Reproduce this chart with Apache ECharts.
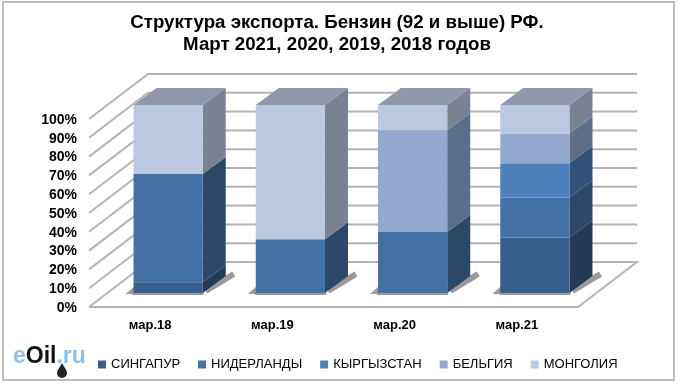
<!DOCTYPE html>
<html>
<head>
<meta charset="utf-8">
<style>
html, body { margin: 0; padding: 0; background: #fff; }
#chart { width: 680px; height: 385px; }
</style>
<script src="https://cdn.jsdelivr.net/npm/echarts@6/dist/echarts.min.js"></script>
</head>
<body>
<div id="chart"></div>
<script>
const categories = ['мар.18', 'мар.19', 'мар.20', 'мар.21'];
const tickLabels = [0, 10, 20, 30, 40, 50, 60, 70, 80, 90, 100];
const countries = ['СИНГАПУР', 'НИДЕРЛАНДЫ', 'КЫРГЫЗСТАН', 'БЕЛЬГИЯ', 'МОНГОЛИЯ'];
const singapore = [5.7, 0, 0, 29.5];
const netherlands = [57.6, 28.6, 32.5, 21.3];
const kyrgyzstan = [0, 0, 0, 18.2];
const belgium = [0, 0, 54.1, 15.8];
const mongolia = [36.7, 71.4, 13.4, 15.2];

const shares = [singapore, netherlands, kyrgyzstan, belgium, mongolia];
const frontColors = ['#375f8c', '#4471a5', '#4e80bc', '#94a9d0', '#bbc8e0'];
const sideColors = ['#233a58', '#2c4869', '#31537b', '#5d6e88', '#7a8292'];
const topColor = '#9097a9';
const gridColor = '#b4b4b4';
const shadowColor = '#9a9a9a';

// pseudo 3D offsets
const wallDx = 59, wallDy = 45;
const barDx = 18, barDy = 14;
const sideDx = 23, sideDy = 17;
const barShare = 0.566;

function poly(points, fill) {
	return {
		type: 'polygon',
		shape: { points: points },
		style: { fill: fill }
	};
}

// walls: one polyline per tick
function renderWall(params, api) {
	const tick = api.value(1);
	const left = api.coord([0, tick]);
	const right = api.coord([categories.length - 1, tick]);
	const band = api.size([1, 0])[0];
	const x0 = left[0] - band / 2;
	const x1 = right[0] + band / 2;
	const y = left[1];
	const points = tick === 0
		? [[x0, y], [x0 + wallDx, y - wallDy], [x1 + wallDx, y - wallDy], [x1, y], [x0, y]]
		: [[x0, y], [x0 + wallDx, y - wallDy], [x1 + wallDx, y - wallDy]];
	return {
		type: 'polyline',
		shape: { points: points },
		style: { stroke: gridColor, lineWidth: 2, fill: null }
	};
}

// floor shadow: left and bottom pieces, thick stroke on the right
function renderShadow(params, api) {
	const base = api.coord([api.value(0), api.value(1)]);
	const w = api.size([1, 0])[0] * barShare;
	const x0 = base[0] - w / 2 + barDx;
	const x1 = x0 + w;
	const yb = base[1] - barDy;
	return {
		type: 'group',
		children: [
			poly([[x0 - 8, yb + 1], [x0 + 1, yb + 1], [x0 + 1, yb - 6], [x0, yb - 6]], shadowColor),
			poly([[x0 - 1, yb + 2], [x1 + 1, yb + 2], [x1 + 1, yb - 1], [x0 - 1, yb - 1]], shadowColor),
			{
				type: 'line',
				shape: { x1: x1 + 3, y1: yb - 2, x2: x1 + 31, y2: yb - 19 },
				style: { stroke: shadowColor, lineWidth: 6 }
			}
		]
	};
}

function renderSegment(params, api) {
	const cat = api.value(0);
	const start = api.value(1);
	const end = api.value(2);
	const idx = api.value(3);
	if (end <= start) return null;
	const band = api.size([1, 0])[0];
	const w = band * barShare;
	const pb = api.coord([cat, start]);
	const pt = api.coord([cat, end]);
	const x0 = pb[0] - w / 2 + barDx;
	const x1 = x0 + w;
	const yb = pb[1] - barDy;
	const yt = pt[1] - barDy;
	const children = [
		poly([[x1, yb], [x1 + sideDx, yb - sideDy], [x1 + sideDx, yt - sideDy], [x1, yt]], sideColors[idx]),
		poly([[x0, yb], [x1, yb], [x1, yt], [x0, yt]], frontColors[idx])
	];
	if (end >= 99.9) {
		children.push(poly([[x0, yt], [x1, yt], [x1 + sideDx, yt - sideDy], [x0 + sideDx, yt - sideDy]], topColor));
	}
	return { type: 'group', children: children };
}

// one custom series per country, stacked by hand
const running = categories.map(function() { return 0; });
const segmentSeries = countries.map(function(name, i) {
	const rows = categories.map(function(c, k) {
		const start = running[k];
		running[k] += shares[i][k];
		return [k, start, running[k], i];
	});
	return {
		name: name,
		type: 'custom',
		renderItem: renderSegment,
		itemStyle: { color: frontColors[i] },
		encode: { x: 0, y: [1, 2] },
		data: rows,
		z: 5,
		silent: true
	};
});

// one shadow series per bar
const shadowSeries = categories.map(function(c, k) {
	return {
		type: 'custom',
		renderItem: renderShadow,
		encode: { x: 0, y: 1 },
		data: [[k, 0]],
		z: 3,
		silent: true
	};
});

const chart = echarts.init(document.getElementById('chart'));
chart.setOption({
	animation: false,
	backgroundColor: '#fff',
	textStyle: { fontFamily: '"Liberation Sans", Arial, sans-serif' },
	title: {
		text: 'Структура экспорта. Бензин (92 и выше) РФ.\nМарт 2021, 2020, 2019, 2018 годов',
		left: 332,
		top: 7,
		textAlign: 'center',
		textStyle: { fontSize: 18.7, fontWeight: 'bold', color: '#000', lineHeight: 22 }
	},
	legend: {
		data: countries,
		left: 93,
		top: 353,
		itemWidth: 8,
		itemHeight: 8,
		itemGap: 18,
		icon: 'rect',
		textStyle: { fontSize: 13, color: '#000' },
		selectedMode: false
	},
	grid: { left: 89, right: 102, top: 119, bottom: 78 },
	xAxis: {
		type: 'category',
		data: categories,
		axisLine: { show: false },
		axisTick: { show: false },
		axisLabel: { color: '#000', fontSize: 13, fontWeight: 'bold', margin: 12 }
	},
	yAxis: {
		type: 'value',
		min: 0,
		max: 100,
		interval: 10,
		axisLine: { show: false },
		axisTick: { show: false },
		splitLine: { show: false },
		axisLabel: {
			margin: 12,
			formatter: '{v|{value}%}',
			rich: { v: { color: '#000', fontSize: 14, fontWeight: 'bold', padding: [2, 0, 0, 0] } }
		}
	},
	graphic: [
		{
			type: 'rect',
			shape: { x: 3, y: 2, width: 671, height: 378 },
			style: { fill: 'none', stroke: '#bdbdbd', lineWidth: 2 },
			silent: true
		},
		{
			type: 'text',
			left: 13,
			top: 345,
			style: {
				text: '{a|e}{b|Oil}{a|.ru}',
				rich: {
					a: { fill: '#8fc0e2', fontSize: 23, fontWeight: 'bold', fontFamily: '"Liberation Sans"' },
					b: { fill: '#111', fontSize: 23, fontWeight: 'bold', fontFamily: '"Liberation Sans"' }
				}
			},
			silent: true
		},
		{
			type: 'circle',
			shape: { cx: 62, cy: 373, r: 5 },
			style: { fill: '#222' },
			silent: true
		},
		{
			type: 'polygon',
			shape: { points: [[62, 363], [58, 370], [66, 370]] },
			style: { fill: '#222' },
			silent: true
		}
	],
	series: [
		{
			type: 'custom',
			renderItem: renderWall,
			encode: { x: 0, y: 1 },
			data: tickLabels.map(function(t) { return [0, t]; }),
			z: 1,
			silent: true
		}
	].concat(shadowSeries, segmentSeries)
});
</script>
</body>
</html>
